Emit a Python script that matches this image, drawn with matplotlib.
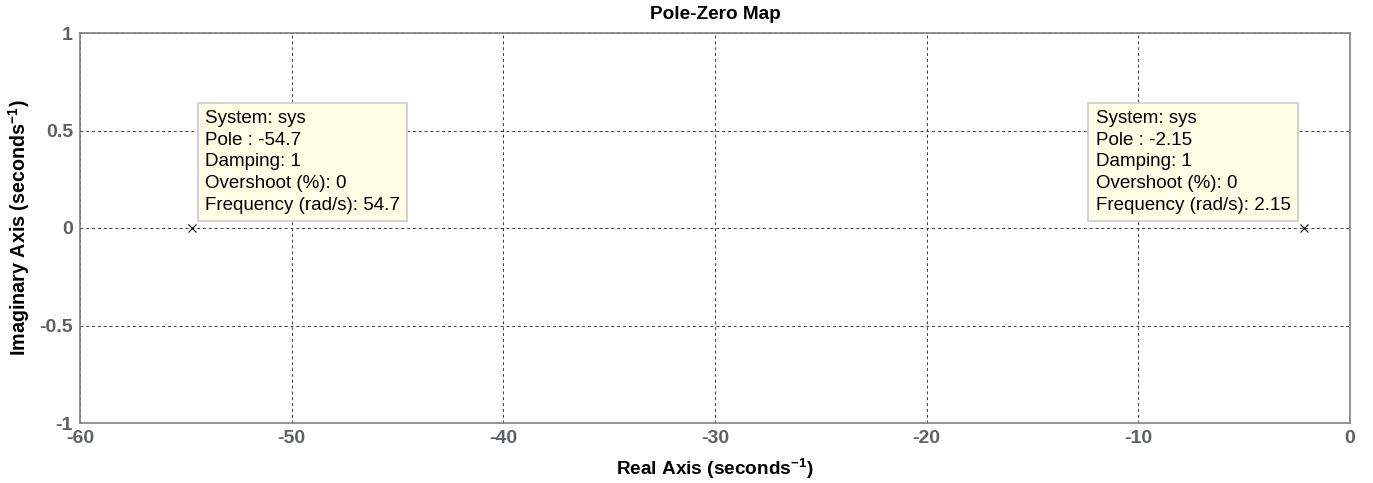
import matplotlib
matplotlib.use("Agg")
import matplotlib.pyplot as plt
from matplotlib.ticker import FixedLocator

plt.rcParams['font.family'] = ['Liberation Sans', 'DejaVu Sans']
plt.rcParams['mathtext.fontset'] = 'custom'
plt.rcParams['mathtext.rm'] = 'Liberation Sans'
plt.rcParams['mathtext.bf'] = 'Liberation Sans:bold'

# Data
pole_real = [-54.7, -2.15]
pole_imag = [0, 0]
damping = [1, 1]
overshoot = [0, 0]
frequency = [54.7, 2.15]
x_ticks = [-60, -50, -40, -30, -20, -10, 0]
y_ticks = [-1, -0.5, 0, 0.5, 1]
y_tick_labels = ['-1', '-0.5', '0', '0.5', '1']

fig = plt.figure(figsize=(13.73, 4.83), dpi=100)
ax = fig.add_axes([80/1373, 1-423/483, 1270/1373, 390/483])

ax.set_xlim(-60, 0)
ax.set_ylim(-1, 1)
ax.xaxis.set_major_locator(FixedLocator(x_ticks))
ax.yaxis.set_major_locator(FixedLocator(y_ticks))
ax.set_yticklabels(y_tick_labels)
ax.set_xticklabels([str(t) for t in x_ticks])

ax.grid(True, color='#3a3a3a', linestyle=(0, (3, 3)), linewidth=0.7)
for s in ax.spines.values():
    s.set_color('#808080')
    s.set_linewidth(1.2)
ax.tick_params(direction='in', length=0, colors='#808080', labelcolor='#5e6068',
               labelsize=14, pad=5)
for lbl in ax.get_xticklabels() + ax.get_yticklabels():
    lbl.set_fontweight('bold')

ax.plot(pole_real, pole_imag, linestyle='none', marker='x', color='black',
        markersize=6, markeredgewidth=0.8, zorder=5)

ax.set_title('Pole-Zero Map', fontsize=13.7, fontweight='bold', pad=10)
ax.set_xlabel(r'Real Axis (seconds$^{\mathbf{-1}}$)', fontsize=13.7, fontweight='bold', labelpad=7)
ax.set_ylabel(r'Imaginary Axis (seconds$^{\mathbf{-1}}$)', fontsize=14.2, fontweight='bold', labelpad=5)

fs = 13.5
for i, (pr, pi) in enumerate(zip(pole_real, pole_imag)):
    txt = (f"System: sys\nPole : {pr:g}\nDamping: {damping[i]:g}\n"
           f"Overshoot (%): {overshoot[i]:g}\nFrequency (rad/s): {frequency[i]:g}")
    if i == 0:
        off = (13, 14)
        ha = 'left'
    else:
        off = (-14, 14)
        ha = 'right'
    ax.annotate(txt, xy=(pr, pi), xytext=off, textcoords='offset pixels',
                ha=ha, va='bottom', multialignment='left', fontsize=fs,
                linespacing=1.37, color='black',
                bbox=dict(boxstyle='square,pad=0.38', fc='#ffffe5', ec='#cfcfcf', lw=1.3),
                zorder=6)

fig.savefig('out.png', dpi=100)
